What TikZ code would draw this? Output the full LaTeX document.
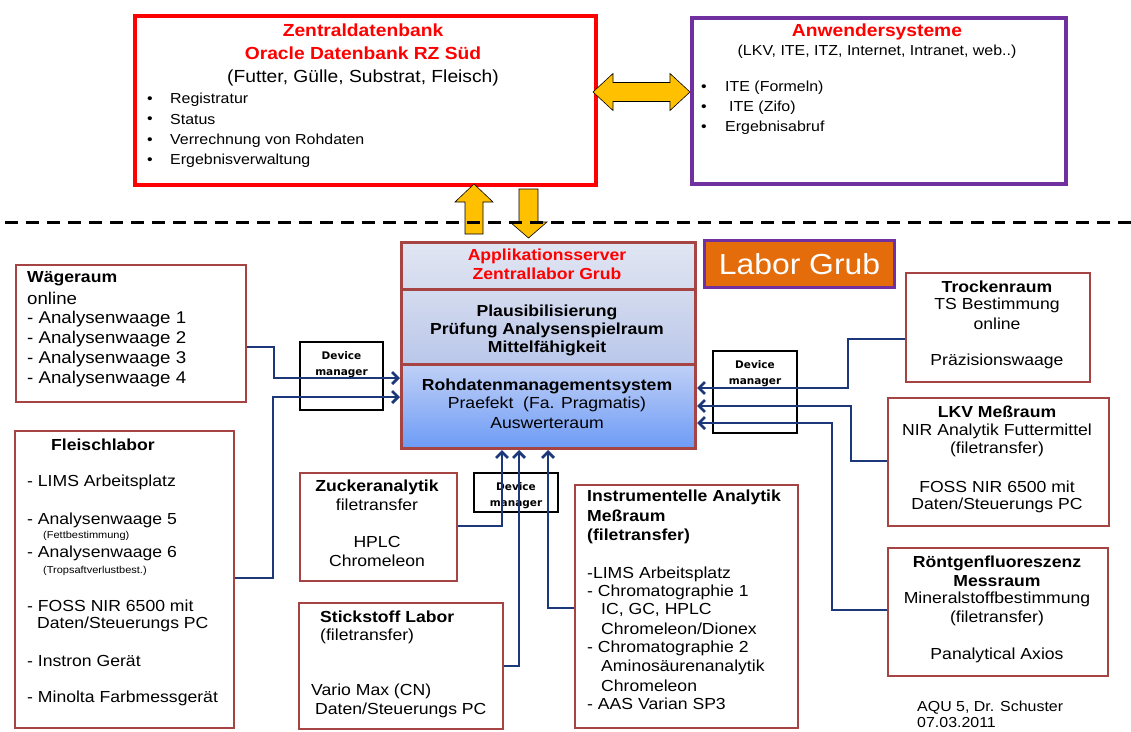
\documentclass[tikz,border=0pt]{standalone}
\usepackage{fontspec}
\setmainfont{Liberation Sans}[FakeStretch=1.1]
\newfontfamily\devfont{DejaVu Sans}
\usetikzlibrary{arrows.meta}
\definecolor{boxred}{RGB}{165,68,66}
\definecolor{anwviolet}{RGB}{112,48,160}
\definecolor{linkblue}{RGB}{28,56,122}
\definecolor{gold}{RGB}{255,192,0}
\definecolor{grubor}{RGB}{228,108,10}
\definecolor{srvA}{RGB}{224,229,242}
\definecolor{srvB}{RGB}{212,219,239}
\definecolor{srvC}{RGB}{186,199,234}
\definecolor{srvD}{RGB}{192,208,246}
\definecolor{srvE}{RGB}{108,155,246}
\tikzset{
  box/.style={inner sep=0pt,anchor=north west,fill=white},
  labbox/.style={box,draw=boxred,line width=2.4pt},
  srvbox/.style={box,draw=boxred,line width=3pt},
  devbox/.style={box,draw=black,line width=2pt,fill=none},
  link/.style={draw=linkblue,line width=2.8pt,-{Straight Barb[length=6pt,width=12pt]}},
  blockarrow/.style={fill=gold,draw=black,line width=0.6pt},
  redtxt/.style={inner sep=0pt,text=red,font=\fontsize{17.5}{21}\selectfont\bfseries},
  redsrv/.style={inner sep=0pt,text=red,font=\fontsize{16}{19}\selectfont\bfseries},
  hdtxt/.style={inner sep=0pt,font=\fontsize{16}{19}\selectfont\bfseries},
  bodytxt/.style={inner sep=0pt,font=\fontsize{16}{19}\selectfont},
  bigtxt/.style={inner sep=0pt,font=\fontsize{17}{20}\selectfont},
  smtxt/.style={inner sep=0pt,font=\fontsize{14.5}{17}\selectfont},
  minitxt/.style={inner sep=0pt,font=\fontsize{10}{12}\selectfont},
  devtxt/.style={inner sep=0pt,font=\devfont\bfseries\fontsize{10.5}{12}\selectfont},
}
\begin{document}
\begin{tikzpicture}[x=1pt,y=-1pt]
\useasboundingbox (0,0) rectangle (1131,731);
% upper part
\node[box,draw=red,line width=3.5pt,minimum width=461,minimum height=169] (zdb) at (133,14) {};
\node[box,draw=anwviolet,line width=3.5pt,minimum width=374,minimum height=166] (anw) at (690,16) {};
\node[redtxt] (zdb-1) at (363,30) {Zentraldatenbank};
\node[redtxt] (zdb-2) at (363,53) {Oracle Datenbank RZ Süd};
\node[bigtxt,font=\fontsize{17.5}{21}\selectfont] (zdb-3) at (363,78) {(Futter, Gülle, Substrat, Fleisch)};
\foreach \y/\t [count=\i] in {100/Registratur,120/Status,141/Verrechnung von Rohdaten,161/Ergebnisverwaltung}{
  \node[smtxt] (zdb-b\i) at (150,\y) {\textbullet};
  \node[smtxt,anchor=west] (zdb-l\i) at (170,\y) {\t};
}
\node[redtxt] (anw-1) at (877,32) {Anwendersysteme};
\node[smtxt] (anw-2) at (877,52) {(LKV, ITE, ITZ, Internet, Intranet, web..)};
\foreach \y/\x/\t [count=\i] in {88/725/ITE (Formeln),108/729/ITE (Zifo),128/725/Ergebnisabruf}{
  \node[smtxt] (anw-b\i) at (704,\y) {\textbullet};
  \node[smtxt,anchor=west] (anw-l\i) at (\x,\y) {\t};
}
% block arrows and border line
\draw[blockarrow] (593,92) -- (613,73.5) -- (613,82.5) -- (670,82.5) -- (670,73.5) -- (690,92)
  -- (670,110.5) -- (670,101.5) -- (613,101.5) -- (613,110.5) -- cycle;
\draw[blockarrow] (465,234) -- (465,202) -- (455,202) -- (474,184) -- (493,202) -- (483,202) -- (483,234) -- cycle;
\draw[blockarrow] (519,189) -- (538,189) -- (538,222) -- (547,222) -- (528.5,238) -- (510,222) -- (519,222) -- cycle;
\draw[line width=3pt,dash pattern=on 13pt off 8pt] (5,222) -- (1131,222);
% server
\node[srvbox,top color=srvA,bottom color=srvB,minimum width=294,minimum height=47] (appsrv) at (400,241) {};
\node[srvbox,top color=srvB,bottom color=srvC,minimum width=294,minimum height=75] (plaus) at (400,288) {};
\node[srvbox,top color=srvD,bottom color=srvE,minimum width=294,minimum height=84] (rdm) at (400,363) {};
\node[redsrv] (appsrv-1) at (547,256) {Applikationsserver};
\node[redsrv] (appsrv-2) at (547,274) {Zentrallabor Grub};
\foreach \y/\t [count=\i] in {312/Plausibilisierung,330/Prüfung Analysenspielraum,348/Mittelfähigkeit}
  \node[hdtxt] (plaus-\i) at (547,\y) {\t};
\node[hdtxt] (rdm-1) at (547,386) {Rohdatenmanagementsystem};
\node[bodytxt] (rdm-2) at (547,404) {Praefekt\ \ (Fa. Pragmatis)};
\node[bodytxt] (rdm-3) at (547,423) {Auswerteraum};
\node[box,draw=anwviolet,line width=3pt,fill=grubor,minimum width=190,minimum height=47,
  text=white,font=\fontsize{29}{34}\selectfont] (grub) at (703,239) {Labor Grub};
% labs
\node[labbox,minimum width=230,minimum height=137] (waege) at (15,264) {};
\node[labbox,minimum width=219,minimum height=297] (fleisch) at (14,430) {};
\node[labbox,minimum width=157,minimum height=108] (zucker) at (299,472) {};
\node[labbox,minimum width=204,minimum height=126] (stick) at (298,602) {};
\node[labbox,minimum width=223,minimum height=243] (instr) at (574,484) {};
\node[labbox,minimum width=184,minimum height=109] (troc) at (905,272) {};
\node[labbox,minimum width=221,minimum height=128] (lkv) at (887,397) {};
\node[labbox,minimum width=220,minimum height=128] (roent) at (887,547) {};
\node[hdtxt,anchor=west] (waege-0) at (27,279) {Wägeraum};
\foreach \y/\t [count=\i] in {298/online,319/- Analysenwaage 1,339/- Analysenwaage 2,359/- Analysenwaage 3,379/- Analysenwaage 4}
  \node[bigtxt,anchor=west] (waege-\i) at (27,\y) {\t};
\node[hdtxt] (fleisch-0) at (103,445) {Fleischlabor};
\foreach \y/\t [count=\i] in {482/- LIMS Arbeitsplatz,520/- Analysenwaage 5,553/- Analysenwaage 6,606/- FOSS NIR 6500 mit,661/- Instron Gerät,698/- Minolta Farbmessgerät}
  \node[bodytxt,anchor=west] (fleisch-\i) at (27,\y) {\t};
\node[bodytxt,anchor=west] (fleisch-pc) at (37,624) {Daten/Steuerungs PC};
\node[minitxt,anchor=west] (fleisch-s1) at (43,536) {(Fettbestimmung)};
\node[minitxt,anchor=west] (fleisch-s2) at (43,571) {(Tropsaftverlustbest.)};
\node[hdtxt] (zucker-0) at (377,487) {Zuckeranalytik};
\foreach \y/\t [count=\i] in {505/filetransfer,542/HPLC,561/Chromeleon}
  \node[bodytxt] (zucker-\i) at (377,\y) {\t};
\node[hdtxt,anchor=west] (stick-0) at (320,617) {Stickstoff Labor};
\node[bodytxt,anchor=west] (stick-1) at (320,636) {(filetransfer)};
\node[bodytxt,anchor=west] (stick-2) at (311,691) {Vario Max (CN)};
\node[bodytxt,anchor=west] (stick-3) at (315,710) {Daten/Steuerungs PC};
\foreach \y/\t [count=\i] in {497/Instrumentelle Analytik,516/Meßraum,536/(filetransfer)}
  \node[hdtxt,anchor=west] (instr-h\i) at (587,\y) {\t};
\foreach \y/\x/\t [count=\i] in {574/587/-LIMS Arbeitsplatz,592/587/- Chromatographie 1,610/601/{IC, GC, HPLC},
    629/601/{Chromeleon/Dionex},648/587/- Chromatographie 2,667/601/Aminosäurenanalytik,686/601/Chromeleon,704/587/- AAS Varian SP3}
  \node[bodytxt,anchor=west] (instr-\i) at (\x,\y) {\t};
\node[hdtxt] (troc-0) at (997,287) {Trockenraum};
\foreach \y/\t [count=\i] in {305/TS Bestimmung,324/online,361/Präzisionswaage}
  \node[bodytxt] (troc-\i) at (997,\y) {\t};
\node[hdtxt] (lkv-0) at (997,412) {LKV Meßraum};
\foreach \y/\t [count=\i] in {431/NIR Analytik Futtermittel,449/(filetransfer),487/FOSS NIR 6500 mit,505/{Daten/Steuerungs PC}}
  \node[bodytxt] (lkv-\i) at (997,\y) {\t};
\node[hdtxt] (roent-0) at (997,563) {Röntgenfluoreszenz};
\node[hdtxt] (roent-1) at (997,581) {Messraum};
\foreach \y/\t [count=\i from 2] in {599/Mineralstoffbestimmung,618/(filetransfer),655/Panalytical Axios}
  \node[bodytxt] (roent-\i) at (997,\y) {\t};
% device manager
\node[devbox,minimum width=83,minimum height=68] (dev1) at (299,341) {};
\node[devbox,minimum width=84,minimum height=82] (dev2) at (712,350) {};
\node[devbox,minimum width=84,minimum height=39] (dev3) at (473,472) {};
\foreach \n in {dev1,dev2,dev3}{
  \node[devtxt] (\n-1) at ([yshift=-14.5pt]\n.north) {Device};
  \node[devtxt] (\n-2) at ([yshift=-32.5pt]\n.north) {manager};
}
% links
\draw[link] (waege.east |- 0,347) -| (274,378) -- (rdm.west |- 0,378);
\draw[link] (fleisch.east |- 0,578) -| (273,397) -- (rdm.west |- 0,397);
\draw[link] (troc.west |- 0,339) -| (848,388) -- (rdm.east |- 0,388);
\draw[link] (lkv.west |- 0,461) -| (851,406) -- (rdm.east |- 0,406);
\draw[link] (roent.west |- 0,610) -| (832,423) -- (rdm.east |- 0,423);
\draw[link] (zucker.east |- 0,526) -| (rdm.south -| 502,0);
\draw[link] (stick.east |- 0,666) -| (rdm.south -| 519,0);
\draw[link] (instr.west |- 0,608) -| (rdm.south -| 548,0);
\node[smtxt,anchor=west] (note-1) at (917,708) {AQU 5, Dr. Schuster};
\node[smtxt,anchor=west] (note-2) at (917,722) {07.03.2011};
\end{tikzpicture}
\end{document}
